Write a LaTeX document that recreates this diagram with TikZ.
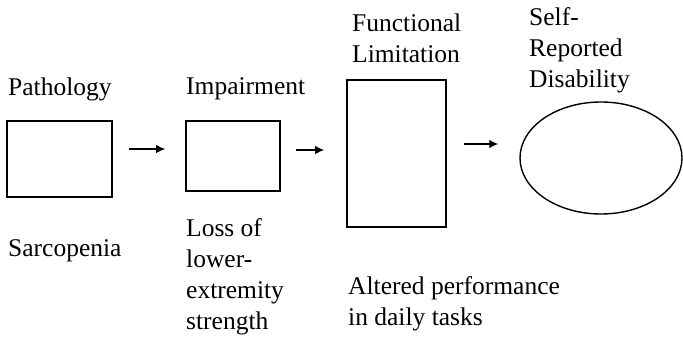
\documentclass[tikz,border=0pt]{standalone}
\usepackage{fontspec}
\setmainfont{Liberation Serif}
\usetikzlibrary{arrows.meta,positioning,shapes.geometric}

\begin{document}
\begin{tikzpicture}[
  x=1pt, y=-1pt,
  font=\fontsize{25.5}{31}\selectfont,
  blk/.style={draw, line width=1.6pt, inner sep=0pt},
  lbl/.style={anchor=base west, align=left, inner sep=0pt},
  arr/.style={-{Latex[length=9pt,width=8.5pt]}, line width=1.3pt}
]
\useasboundingbox (0,0) rectangle (683,342);
% stages of the pathway
\node[blk, minimum width=105pt, minimum height=76pt] (path) at (59.5,159) {};
\node[blk, minimum width=94pt, minimum height=70pt] (imp) at (233,156) {};
\node[blk, minimum width=99pt, minimum height=147pt] (func) at (396.5,153.5) {};
\node[blk, ellipse, line width=1.4pt, minimum width=162pt, minimum height=112pt] (dis) at (601,158) {};
% headings (base = last line)
\node[lbl] (pathtop) at (8,96) {Pathology};
\node[lbl] (imptop) at (186,95) {Impairment};
\node[lbl] (functop) at (352,63) {Functional\\Limitation};
\node[lbl] (distop) at (529,88) {Self-\\Reported\\Disability};
% what each stage means here
\node[lbl] (pathbot) at (8,256) {Sarcopenia};
\node[lbl] (impbot) at (186,329) {Loss of\\lower-\\extremity\\strength};
\node[lbl] (funcbot) at (348,325) {Altered performance\\in daily tasks};
% arrows
\draw[arr, shorten <=16pt, shorten >=20pt] ([yshift=10pt]path.east) -- ([yshift=10pt]path.east -| imp.west);
\draw[arr, shorten <=15pt, shorten >=22pt] ([yshift=6pt]imp.east) -- ([yshift=6pt]imp.east -| func.west);
\draw[arr, shorten <=17pt, shorten >=21pt] ([yshift=9.5pt]func.east) -- ([yshift=9.5pt]func.east -| dis.west);
\end{tikzpicture}
\end{document}
